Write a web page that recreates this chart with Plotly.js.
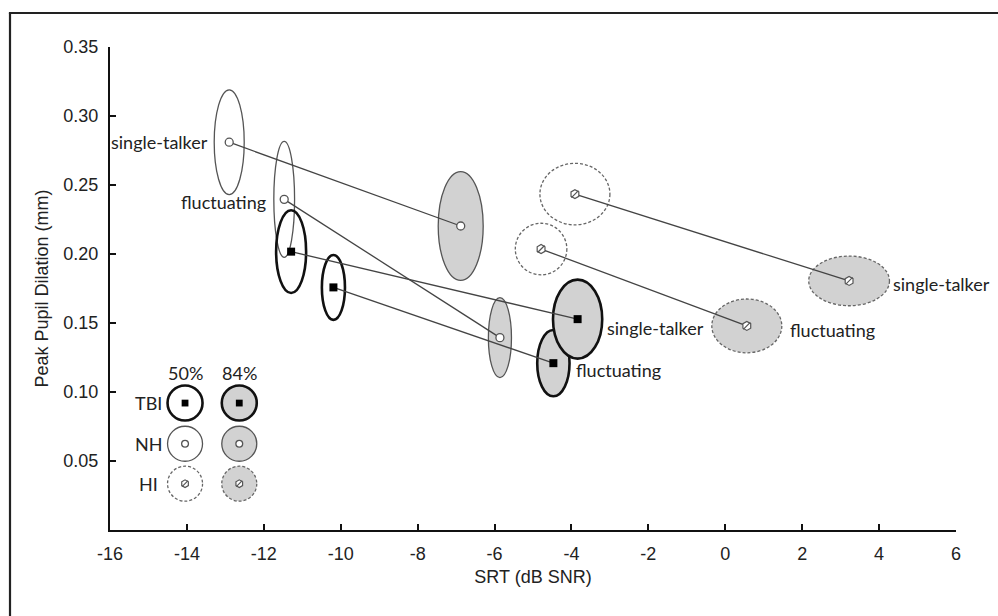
<!DOCTYPE html>
<html>
<head>
<meta charset="utf-8">
<script src="https://cdn.plot.ly/plotly-3.0.1.min.js"></script>
<style>
  html, body { margin: 0; padding: 0; background: #fff; }
  #chart { width: 998px; height: 616px; }
</style>
</head>
<body>
<div id="chart"></div>
<script>
// ---- data ----
const groups     = ['NH', 'NH', 'TBI', 'TBI', 'HI', 'HI'];
const conditions = ['single-talker', 'fluctuating', 'single-talker', 'fluctuating', 'single-talker', 'fluctuating'];
const srt50  = [-12.9, -11.47, -11.29, -10.19, -3.91, -4.79];
const ppd50  = [0.281, 0.2396, 0.2017, 0.1758, 0.2434, 0.2036];
const srt84  = [-6.88, -5.86, -3.84, -4.47, 3.22, 0.56];
const ppd84  = [0.2203, 0.1394, 0.1528, 0.1209, 0.1805, 0.1479];
const halfW50 = [0.39, 0.27, 0.39, 0.30, 0.91, 0.67];
const halfH50 = [0.038, 0.042, 0.030, 0.0235, 0.0223, 0.0187];
const halfW84 = [0.585, 0.30, 0.64, 0.42, 1.05, 0.91];
const halfH84 = [0.0394, 0.029, 0.0286, 0.024, 0.018, 0.0195];
const xTicks = [-16, -14, -12, -10, -8, -6, -4, -2, 0, 2, 4, 6];
const yTicks = [0.05, 0.10, 0.15, 0.20, 0.25, 0.30, 0.35];
const legendGroups = ['TBI', 'NH', 'HI'];
const legendLevels = ['50%', '84%'];

// ---- styles ----
const GREY = '#d2d2d2';
const styles = {
  TBI: { line: { color: '#111', width: 2.6 }, marker: { symbol: 'square', size: 8, color: '#000', line: { width: 0 } } },
  NH:  { line: { color: '#555', width: 1.3 }, marker: { symbol: 'circle', size: 8, color: '#fff', line: { color: '#555', width: 1.3 } } },
  HI:  { line: { color: '#666', width: 1.3, dash: '3px,2px' }, marker: { symbol: 'hexagon', size: 9, color: '#fff', line: { color: '#555', width: 1.2 } } }
};
const TEXT_FONT = { family: 'Lato, "Open Sans", sans-serif', size: 18, color: '#222' };
const AXIS_FONT = { family: '"Liberation Sans", Arial, sans-serif', size: 18, color: '#222' };

const shapes = [];
const traces = [];
const annotations = [];

function ellipse(g, cx, cy, hw, hh, filled) {
  const s = styles[g];
  return {
    type: 'circle', xref: 'x', yref: 'y', layer: 'below',
    x0: cx - hw, x1: cx + hw, y0: cy - hh, y1: cy + hh,
    fillcolor: filled ? GREY : 'rgba(0,0,0,0)',
    line: Object.assign({}, s.line)
  };
}

// ellipses: 50% first, then 84% (single-talker TBI after fluctuating TBI)
const order = [0, 1, 3, 2, 5, 4];
order.forEach(i => shapes.push(ellipse(groups[i], srt50[i], ppd50[i], halfW50[i], halfH50[i], false)));
order.forEach(i => shapes.push(ellipse(groups[i], srt84[i], ppd84[i], halfW84[i], halfH84[i], true)));

// connecting lines
for (let i = 0; i < groups.length; i++) {
  traces.push({
    type: 'scatter', mode: 'lines', x: [srt50[i], srt84[i]], y: [ppd50[i], ppd84[i]],
    line: { color: '#444', width: 1.3 }, hoverinfo: 'skip', showlegend: false
  });
}

// markers
function markerTrace(g, xs, ys, xa, ya, scale) {
  const m = JSON.parse(JSON.stringify(styles[g].marker));
  if (scale) m.size = m.size * scale;
  const out = [{ type: 'scatter', mode: 'markers', x: xs, y: ys, xaxis: xa, yaxis: ya, marker: m, showlegend: false, hoverinfo: 'skip' }];
  if (g === 'HI') {
    out.push({ type: 'scatter', mode: 'markers', x: xs, y: ys, xaxis: xa, yaxis: ya, showlegend: false, hoverinfo: 'skip',
      marker: { symbol: 'line-ne', size: 7 * (scale || 1), color: '#555', line: { color: '#555', width: 1.2 } } });
  }
  return out;
}
['TBI', 'NH', 'HI'].forEach(g => {
  const xs = [], ys = [];
  groups.forEach((gg, i) => { if (gg === g) { xs.push(srt50[i], srt84[i]); ys.push(ppd50[i], ppd84[i]); } });
  traces.push(...markerTrace(g, xs, ys, 'x', 'y'));
});

// condition labels
const labelSpec = [
  { i: 0, lvl: 50, anchor: 'right', dx: -19, dy: 0 },
  { i: 1, lvl: 50, anchor: 'right', dx: -16, dy: -3 },
  { i: 2, lvl: 84, anchor: 'left', dx: 27, dy: -9 },
  { i: 3, lvl: 84, anchor: 'left', dx: 21, dy: -7 },
  { i: 4, lvl: 84, anchor: 'left', dx: 42, dy: -3 },
  { i: 5, lvl: 84, anchor: 'left', dx: 41, dy: -4 }
];
labelSpec.forEach(s => {
  annotations.push({
    x: s.lvl === 50 ? srt50[s.i] : srt84[s.i], y: s.lvl === 50 ? ppd50[s.i] : ppd84[s.i],
    xref: 'x', yref: 'y', text: conditions[s.i], showarrow: false,
    xanchor: s.anchor, yanchor: 'middle', xshift: s.dx, yshift: s.dy, font: TEXT_FONT
  });
});

// ---- key (legend) in paper coordinates ----
const keyCols = [0.0887, 0.1528];
const keyRows = [0.2628, 0.1786, 0.0959];
const keyLabelX = 0.0460;
legendLevels.forEach((lv, c) => {
  annotations.push({ x: keyCols[c], y: 0.325, xref: 'paper', yref: 'paper', text: lv, showarrow: false,
    xanchor: 'center', yanchor: 'middle', font: TEXT_FONT });
});
legendGroups.forEach((g, r) => {
  annotations.push({ x: keyLabelX, y: keyRows[r], xref: 'paper', yref: 'paper', text: g, showarrow: false,
    xanchor: 'center', yanchor: 'middle', font: TEXT_FONT });
  keyCols.forEach((cx, c) => {
    shapes.push({
      type: 'circle', xref: 'paper', yref: 'paper', xsizemode: 'pixel', ysizemode: 'pixel',
      xanchor: cx, yanchor: keyRows[r], x0: -17.5, x1: 17.5, y0: -17.5, y1: 17.5,
      fillcolor: c === 1 ? GREY : 'rgba(0,0,0,0)', line: Object.assign({}, styles[g].line), layer: 'below'
    });
  });
  traces.push(...markerTrace(g, keyCols, [keyRows[r], keyRows[r]], 'x2', 'y2', 0.85));
});

// ---- outer frame (left and top rules) ----
shapes.push({ type: 'line', xref: 'paper', yref: 'paper', x0: -0.1182, x1: -0.1182, y0: -0.2, y1: 1.0704, line: { color: '#222', width: 2.2 } });
shapes.push({ type: 'line', xref: 'paper', yref: 'paper', x0: -0.1195, x1: 1.06, y0: 1.0704, y1: 1.0704, line: { color: '#222', width: 2.2 } });

const layout = {
  width: 998, height: 616,
  margin: { l: 110, r: 42, t: 47, b: 86 },
  paper_bgcolor: '#fff', plot_bgcolor: '#fff',
  showlegend: false,
  xaxis: {
    range: [-16, 6], tickvals: xTicks, ticktext: xTicks.map(String),
    showline: true, linecolor: '#111', linewidth: 2, ticks: 'inside', ticklen: 6, tickwidth: 2, tickcolor: '#111',
    showgrid: false, zeroline: false, tickfont: AXIS_FONT, ticklabelstandoff: 6,
    title: { text: 'SRT (dB SNR)', font: AXIS_FONT, standoff: 8 }
  },
  yaxis: {
    range: [0, 0.35], tickvals: yTicks, ticktext: yTicks.map(v => v.toFixed(2)),
    showline: true, linecolor: '#111', linewidth: 2, ticks: 'inside', ticklen: 6, tickwidth: 2, tickcolor: '#111',
    showgrid: false, zeroline: false, tickfont: AXIS_FONT, ticklabelstandoff: 6,
    title: { text: 'Peak Pupil Dilation (mm)', font: AXIS_FONT, standoff: 10 }
  },
  xaxis2: { overlaying: 'x', range: [0, 1], visible: false, fixedrange: true },
  yaxis2: { overlaying: 'y', range: [0, 1], visible: false, fixedrange: true },
  shapes: shapes,
  annotations: annotations
};

Plotly.newPlot('chart', traces, layout, { displayModeBar: false, staticPlot: true });
</script>
</body>
</html>
